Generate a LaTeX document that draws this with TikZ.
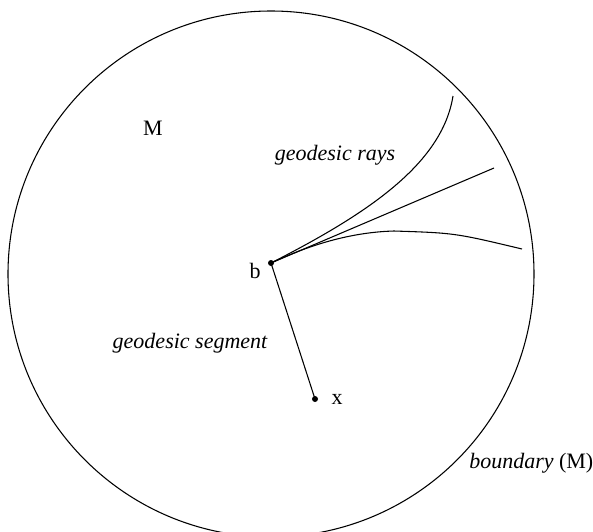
\documentclass[tikz,border=0pt]{standalone}
\usepackage{fontspec}
\setmainfont{Liberation Serif}
\usetikzlibrary{positioning}

\tikzset{
  lbl/.style={inner sep=0pt, font=\fontsize{16.5}{18}\selectfont},
  ilbl/.style={lbl, font=\fontsize{16.5}{18}\selectfont\itshape},
  pt/.style={circle, fill=black, inner sep=0pt, minimum size=4.5pt},
  geo/.style={line width=0.8pt}
}

\begin{document}
\begin{tikzpicture}[x=0.75pt, y=-0.75pt]
    % --- page in pixel units, y pointing down ---
    \useasboundingbox (0,0) rectangle (593,532);
    \clip (0,0) rectangle (593,532);

    % --- the manifold M and its boundary ---
    \draw[geo] (271,274) circle[radius=263];
    \node[lbl] (mlbl) at (153,128) {M};
    \node[lbl, anchor=west] (bdry) at (469,463) {\textit{boundary} (M)};

    % --- base point b and point x ---
    \node[pt] (b) at (271,263) {};
    \node[pt] (x) at (315,399) {};
    \node[lbl] (blbl) at (255,271) {b};
    \node[lbl] (xlbl) at (337,399) {x};

    % --- geodesic segment ---
    \draw[geo] (b.center) -- (x.center);
    \node[ilbl] (seglbl) at (190,343) {geodesic segment};

    % --- geodesic rays ---
    \coordinate (r1) at (453,96);
    \coordinate (r2) at (494,168);
    \coordinate (r3a) at (394,231);
    \coordinate (r3) at (522,249);
    \draw[geo] (b.center) .. controls (365,215) and (442,165) .. (r1);
    \draw[geo] (b.center) -- (r2);
    \draw[geo] (b.center) .. controls (320,240) and (360,232) .. (r3a)
                          .. controls (455,233) .. (r3);
    \node[ilbl] (raylbl) at (335,155) {geodesic rays};
\end{tikzpicture}
\end{document}
